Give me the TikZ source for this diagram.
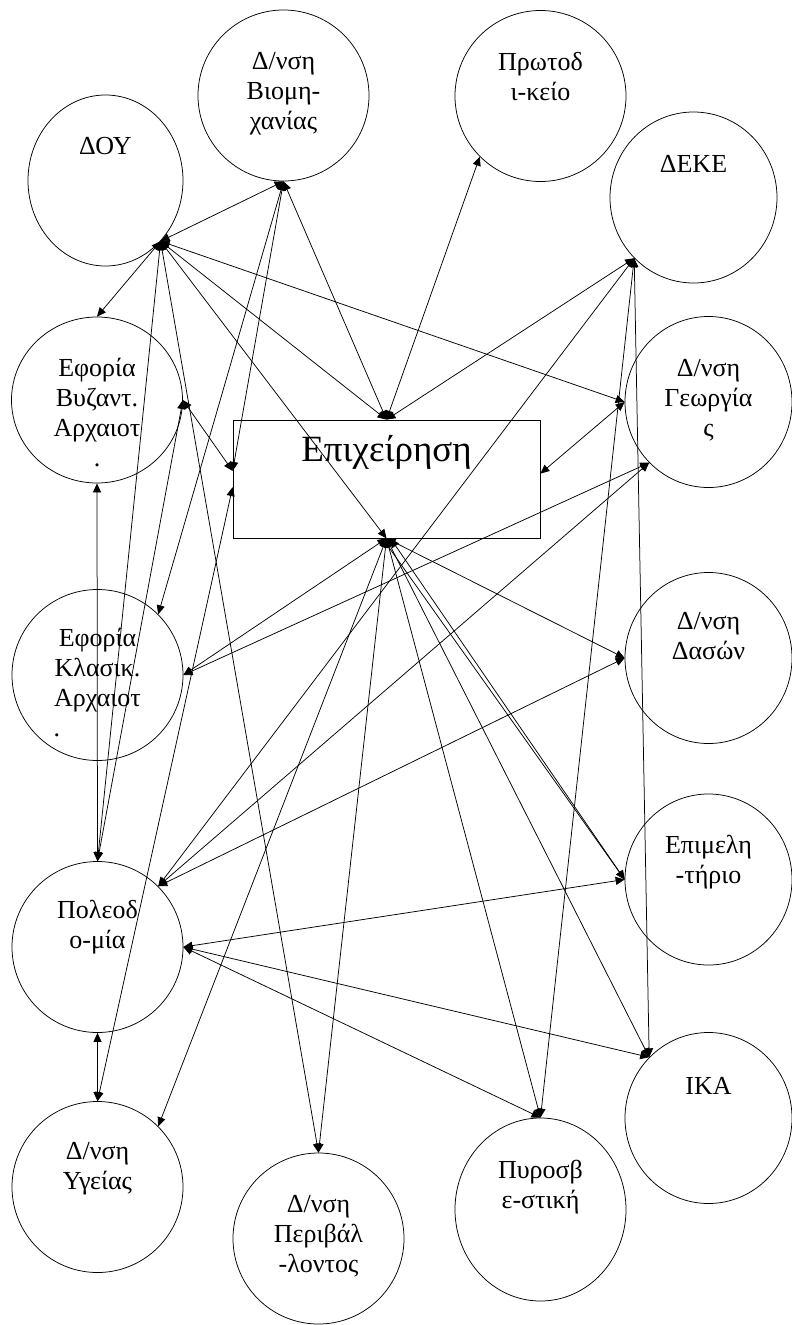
\documentclass[tikz,border=0pt]{standalone}
\usepackage{fontspec}
\setmainfont{Liberation Serif}
\usetikzlibrary{arrows.meta,shapes.geometric}

\tikzset{
  org/.style={ellipse,draw,line width=0.75pt,inner sep=0pt,minimum width=171pt,minimum height=171pt},
  orgtxt/.style={anchor=north,inner sep=0pt,align=center,font=\fontsize{26}{30}\selectfont,execute at begin node=\strut},
  link/.style={<->,line width=0.75pt}
}

\begin{document}
\begin{tikzpicture}[x=1pt,y=-1pt,>={Triangle[length=9pt,width=8pt]}]
  \useasboundingbox (0,0) rectangle (792,1325);
  % left column
  \node[org,minimum width=155pt] (dou) at (105.5,180.5) {};
  \node[org,minimum height=166pt] (byz) at (97,400) {};
  \node[org] (klas) at (97.5,675) {};
  \node[org] (pol) at (97.5,947) {};
  \node[org] (yge) at (97.5,1187) {};
  % top row
  \node[org] (biom) at (283.5,95.5) {};
  \node[org] (prot) at (540.5,96) {};
  % right column
  \node[org,minimum width=167pt] (deke) at (693.5,197.5) {};
  \node[org,minimum width=167pt] (geo) at (708.5,402) {};
  \node[org,minimum width=167pt] (das) at (708.5,658) {};
  \node[org,minimum width=167pt] (epi) at (708.5,879.5) {};
  \node[org,minimum width=167pt] (ika) at (708.5,1118) {};
  % bottom row
  \node[org] (per) at (318.5,1238.5) {};
  \node[org,minimum height=183pt] (pyr) at (540.5,1209.5) {};
  % centre box
  \node[draw,line width=0.75pt,inner sep=0pt,minimum width=307pt,minimum height=118pt] (ent) at (386.5,479) {};
  \node[anchor=base,inner sep=0pt,font=\fontsize{37}{44}\selectfont] (ent-t) at ([yshift=-42pt]ent.north) {Επιχείρηση};

  % texts, hung from the top of each circle
  \node[orgtxt] (dou-t) at ([yshift=-39pt]dou.north) {ΔΟΥ};
  \node[orgtxt] (byz-t) at ([yshift=-41pt]byz.north) {Εφορία\\Βυζαντ.\\Αρχαιοτ\\.};
  \node[orgtxt] (klas-t) at ([yshift=-39pt]klas.north) {Εφορία\\Κλασικ.\\Αρχαιοτ\\\makebox[88pt][l]{.}};
  \node[orgtxt] (pol-t) at ([yshift=-39pt]pol.north) {Πολεοδ\\ο-μία};
  \node[orgtxt] (yge-t) at ([yshift=-41pt]yge.north) {Δ/νση\\Υγείας};
  \node[orgtxt] (biom-t) at ([yshift=-43pt]biom.north) {Δ/νση\\Βιομη-\\χανίας};
  \node[orgtxt] (prot-t) at ([yshift=-42pt]prot.north) {Πρωτοδ\\ι-κείο};
  \node[orgtxt] (deke-t) at ([yshift=-40pt]deke.north) {ΔΕΚΕ};
  \node[orgtxt] (geo-t) at ([yshift=-43pt]geo.north) {Δ/νση\\Γεωργία\\ς};
  \node[orgtxt] (das-t) at ([yshift=-40pt]das.north) {Δ/νση\\Δασών};
  \node[orgtxt] (epi-t) at ([yshift=-41pt]epi.north) {Επιμελη\\-τήριο};
  \node[orgtxt] (ika-t) at ([yshift=-41pt]ika.north) {ΙΚΑ};
  \node[orgtxt] (per-t) at ([yshift=-42pt]per.north) {Δ/νση\\Περιβάλ\\-λοντος};
  \node[orgtxt] (pyr-t) at ([yshift=-42pt]pyr.north) {Πυροσβ\\ε-στική};

  % from ΔΟΥ
  \draw[link] (dou.south east) -- (biom.south);
  \draw[link] (dou.south east) -- (byz.north);
  \draw[link] (dou.south east) -- (geo.west);
  \draw[link] (dou.south east) -- (ent.north);
  \draw[link] (dou.south east) -- (ent.south);
  \draw[link] (dou.south east) -- (pol.north);
  \draw[link] (dou.south east) -- (per.north);
  % from Βιομηχανίας, Πρωτοδικείο, ΔΕΚΕ
  \draw[link] (biom.south) -- (klas.north east);
  \draw[link] (biom.south) -- (ent.177);
  \draw[link] (biom.south) -- (ent.north);
  \draw[link] (ent.north) -- (prot.south west);
  \draw[link] (deke.south west) -- (ent.north);
  \draw[link] (deke.south west) -- (pol.north east);
  \draw[link] (deke.south west) -- (pyr.north);
  \draw[link] (deke.south west) -- (ika.north west);
  % left column
  \draw[link] (byz.east) -- (ent.177);
  \draw[link] (byz.east) -- (pol.north);
  \draw[link] (byz.south) -- (pol.north);
  \draw[link] (ent.183) -- (yge.north);
  \draw[link] (pol.south) -- (yge.north);
  % Γεωργίας, Δασών
  \draw[link] (ent.2) -- (geo.west);
  \draw[link] (geo.south west) -- (klas.east);
  \draw[link] (geo.south west) -- (pol.north east);
  \draw[link] (das.west) -- (pol.north east);
  % from the bottom of the box
  \draw[link] (ent.south) -- (klas.east);
  \draw[link] (ent.south) -- (das.west);
  \draw[link] ([xshift=-4pt]ent.south) -- (epi.west);
  \draw[link] ([xshift=4pt]ent.south) -- (epi.west);
  \draw[link] (ent.south) -- (ika.north west);
  \draw[link] (ent.south) -- (pyr.north);
  \draw[link] (ent.south) -- (per.north);
  \draw[link] (ent.south) -- (yge.north east);
  % from Πολεοδομία
  \draw[link] (pol.east) -- (epi.west);
  \draw[link] (pol.east) -- (ika.north west);
  \draw[link] (pol.east) -- (pyr.north);
\end{tikzpicture}
\end{document}
